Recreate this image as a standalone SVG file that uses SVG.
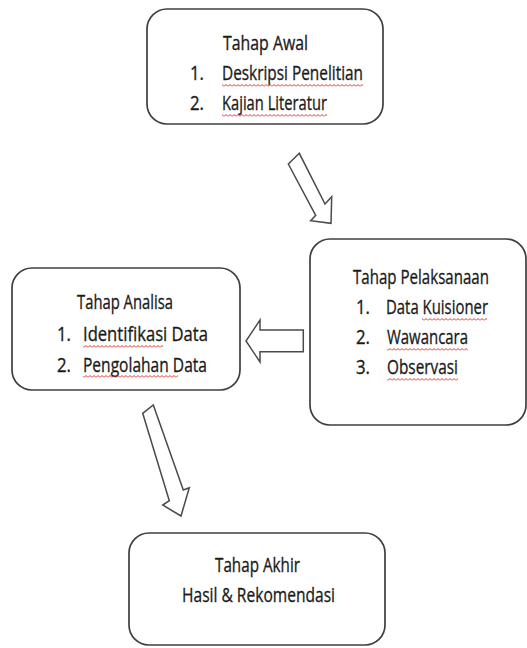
<svg xmlns="http://www.w3.org/2000/svg" width="527" height="648" viewBox="0 0 527 648">
  <style>
    .box { fill: #ffffff; stroke: #3f3f3f; stroke-width: 1.7; }
    .arrow { fill: #ffffff; stroke: #4a4a4a; stroke-width: 1.5; stroke-linejoin: miter; }
    .t { font-family: "Open Sans", "Noto Sans", sans-serif; font-size: 18px; fill: #1a1a1a; stroke: #1a1a1a; stroke-width: 0.3; }
    .spell { fill: url(#squiggle); }
  </style>
  <defs>
    <!-- red wavy spell-check underline, tiled horizontally -->
    <pattern id="squiggle" patternUnits="userSpaceOnUse" width="4" height="3">
      <path d="M0,2.5 L2,0.5 L4,2.5" fill="none" stroke="#e03030" stroke-width="1"/>
    </pattern>
  </defs>

  <rect width="527" height="648" fill="#ffffff"/>

  <!-- connectors: hollow block arrows -->
  <g id="connectors">
    <polygon class="arrow" points="288.3,164 299.3,153.3 325,204 331.7,196.7 331,223.3 310.7,220.7 315.7,215.3"/>
    <polygon class="arrow" points="303.3,330 260,330 260,320 246,341 260,362 260,351.7 303.3,351.7"/>
    <polygon class="arrow" points="142.7,413.3 153.3,405 183.3,490 189.3,487.7 181,516 162.7,505 169.3,500.7"/>
  </g>

  <!-- each label is placed by translate and stretched slightly taller -->
  <g id="tahap-awal">
    <rect class="box" x="147" y="9" width="236" height="115" rx="20"/>
    <text class="t" transform="translate(223,50) scale(1,1.12)" textLength="85" lengthAdjust="spacingAndGlyphs">Tahap Awal</text>
    <text class="t" transform="translate(190,80) scale(1,1.12)" textLength="14" lengthAdjust="spacingAndGlyphs">1.</text>
    <text class="t" transform="translate(222,80) scale(1,1.12)" textLength="141" lengthAdjust="spacingAndGlyphs">Deskripsi Penelitian</text>
    <text class="t" transform="translate(190,110) scale(1,1.12)" textLength="14" lengthAdjust="spacingAndGlyphs">2.</text>
    <text class="t" transform="translate(222,110) scale(1,1.12)" textLength="105" lengthAdjust="spacingAndGlyphs">Kajian Literatur</text>
    <rect class="spell" x="222" y="84" width="141" height="3"/>
    <rect class="spell" x="222" y="114" width="105" height="3"/>
  </g>

  <g id="tahap-pelaksanaan">
    <rect class="box" x="310" y="239" width="216" height="186" rx="20"/>
    <text class="t" transform="translate(353,284) scale(1,1.12)" textLength="136" lengthAdjust="spacingAndGlyphs">Tahap Pelaksanaan</text>
    <text class="t" transform="translate(356,314) scale(1,1.12)" textLength="14" lengthAdjust="spacingAndGlyphs">1.</text>
    <text class="t" transform="translate(386,314) scale(1,1.12)" textLength="102" lengthAdjust="spacingAndGlyphs">Data Kuisioner</text>
    <text class="t" transform="translate(356,344) scale(1,1.12)" textLength="14" lengthAdjust="spacingAndGlyphs">2.</text>
    <text class="t" transform="translate(387,344) scale(1,1.12)" textLength="81" lengthAdjust="spacingAndGlyphs">Wawancara</text>
    <text class="t" transform="translate(356,374) scale(1,1.12)" textLength="14" lengthAdjust="spacingAndGlyphs">3.</text>
    <text class="t" transform="translate(387,374) scale(1,1.12)" textLength="71" lengthAdjust="spacingAndGlyphs">Observasi</text>
    <rect class="spell" x="422" y="318" width="65" height="3"/>
    <rect class="spell" x="387" y="348" width="81" height="3"/>
    <rect class="spell" x="387" y="378" width="71" height="3"/>
  </g>

  <g id="tahap-analisa">
    <rect class="box" x="12" y="268" width="228" height="122" rx="20"/>
    <text class="t" transform="translate(77,309) scale(1,1.12)" textLength="96" lengthAdjust="spacingAndGlyphs">Tahap Analisa</text>
    <text class="t" transform="translate(57,341) scale(1,1.12)" textLength="14" lengthAdjust="spacingAndGlyphs">1.</text>
    <text class="t" transform="translate(83,341) scale(1,1.12)" textLength="125" lengthAdjust="spacingAndGlyphs">Identifikasi Data</text>
    <text class="t" transform="translate(57,372) scale(1,1.12)" textLength="14" lengthAdjust="spacingAndGlyphs">2.</text>
    <text class="t" transform="translate(83,372) scale(1,1.12)" textLength="124" lengthAdjust="spacingAndGlyphs">Pengolahan Data</text>
    <rect class="spell" x="83" y="345" width="80" height="3"/>
    <rect class="spell" x="83" y="375" width="95" height="3"/>
  </g>

  <g id="tahap-akhir">
    <rect class="box" x="129" y="533" width="256" height="112" rx="20"/>
    <text class="t" transform="translate(215,572) scale(1,1.12)" textLength="85" lengthAdjust="spacingAndGlyphs">Tahap Akhir</text>
    <text class="t" transform="translate(182,602) scale(1,1.12)" textLength="153" lengthAdjust="spacingAndGlyphs">Hasil &amp; Rekomendasi</text>
  </g>
</svg>
